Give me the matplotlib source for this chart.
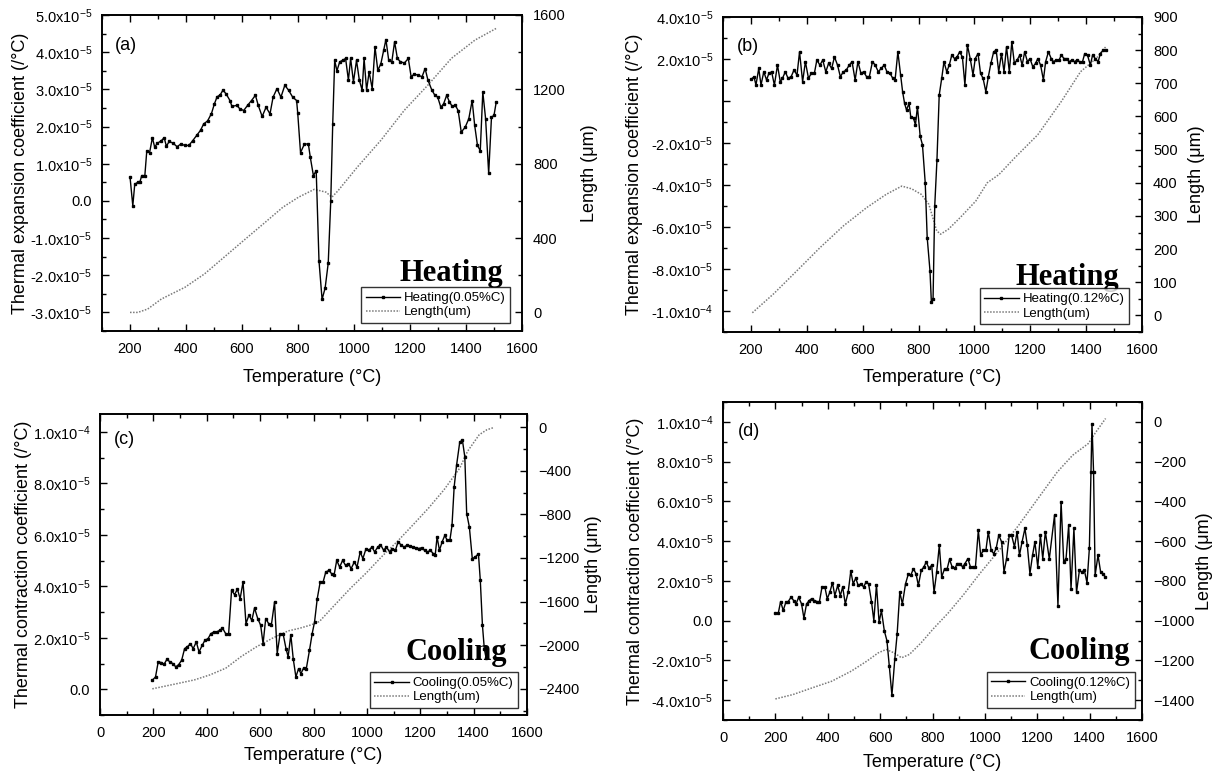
import matplotlib
matplotlib.use("Agg")
import matplotlib.pyplot as plt
from matplotlib.lines import Line2D
from matplotlib.ticker import FixedLocator, FixedFormatter, MultipleLocator
import numpy as np

plt.rcParams['font.family'] = ['Liberation Sans', 'DejaVu Sans']
plt.rcParams['mathtext.fontset'] = 'custom'
plt.rcParams['mathtext.rm'] = 'Liberation Sans'
plt.rcParams['mathtext.it'] = 'Liberation Sans'
plt.rcParams['mathtext.default'] = 'regular'

# ---------------- (a) Heating 0.05%C ----------------
a_T = [200, 210, 217, 228, 235, 242, 253, 260, 270, 280, 288, 298, 312, 322, 330, 340, 354, 368, 382, 396,
       410, 424, 438, 452, 463, 477, 491, 501, 511, 522, 532, 543, 557, 564, 581, 592, 606, 620, 634, 648,
       658, 672, 686, 700, 711, 725, 739, 753, 767, 781, 795, 799, 809, 823, 837, 844, 855, 865, 875, 886,
       897, 908, 917, 924, 931, 939, 949, 959, 970, 980, 988, 998, 1009, 1019, 1029, 1036, 1045, 1054, 1065, 1075,
       1085, 1096, 1106, 1114, 1124, 1135, 1145, 1155, 1166, 1180, 1194, 1204, 1215, 1229, 1243, 1254, 1264, 1278, 1289, 1299,
       1310, 1320, 1331, 1341, 1351, 1362, 1372, 1383, 1397, 1410, 1422, 1431, 1441, 1451, 1460, 1470, 1481, 1491, 1500, 1508]
a_alpha = [0.65, -0.13, 0.45, 0.50, 0.50, 0.68, 0.68, 1.35, 1.30, 1.70, 1.45, 1.55, 1.62, 1.70, 1.47, 1.60, 1.55, 1.46, 1.53, 1.49,
           1.49, 1.62, 1.76, 1.90, 2.07, 2.15, 2.35, 2.60, 2.80, 2.85, 2.98, 2.88, 2.70, 2.54, 2.57, 2.48, 2.43, 2.57, 2.70, 2.84,
           2.57, 2.27, 2.52, 2.34, 2.79, 3.02, 2.79, 3.11, 2.97, 2.79, 2.70, 2.36, 1.30, 1.53, 1.53, 1.17, 0.68, 0.81, -1.62, -2.65,
           -2.34, -1.67, 0.0, 2.07, 3.78, 3.50, 3.74, 3.78, 3.83, 3.25, 3.83, 3.20, 3.78, 3.25, 2.98, 3.83, 2.98, 3.47, 3.02, 4.14,
           3.51, 3.69, 4.05, 4.34, 3.78, 3.74, 4.28, 3.83, 3.74, 3.71, 3.83, 3.34, 3.41, 3.38, 3.34, 3.56, 3.25, 2.98, 2.84, 2.79,
           2.52, 2.61, 2.84, 2.66, 2.54, 2.57, 2.43, 1.85, 1.98, 2.21, 2.70, 2.03, 1.49, 1.35, 2.93, 2.21, 0.74, 2.25, 2.30, 2.66]
a_len_T = [200, 228, 263, 312, 396, 466, 536, 606, 676, 746, 802, 858, 900, 921, 942, 1012, 1096, 1180, 1264, 1348, 1432, 1508]
a_len = [0, 0, 18, 72, 135, 207, 297, 387, 476, 566, 620, 662, 647, 620, 653, 782, 926, 1088, 1223, 1367, 1465, 1528]

# ---------------- (b) Heating 0.12%C ----------------
b_T = [200, 211, 218, 228, 236, 246, 256, 264, 274, 284, 295, 305, 313, 323, 333, 344, 354, 365, 374, 385,
       395, 406, 416, 427, 436, 447, 457, 468, 478, 489, 499, 510, 520, 531, 541, 552, 562, 573, 583, 594,
       603, 614, 624, 635, 645, 656, 666, 677, 687, 698, 708, 716, 726, 736, 743, 750, 757, 766, 772, 782,
       789, 796, 806, 814, 824, 831, 841, 846, 852, 858, 866, 874, 883, 891, 901, 910, 919, 929, 938, 947,
       957, 966, 975, 985, 995, 1003, 1013, 1022, 1031, 1041, 1050, 1059, 1069, 1078, 1087, 1097, 1106, 1115, 1125, 1134,
       1143, 1153, 1162, 1171, 1180, 1190, 1199, 1209, 1219, 1227, 1237, 1247, 1255, 1265, 1275, 1283, 1293, 1303, 1311, 1321,
       1331, 1339, 1349, 1359, 1367, 1377, 1387, 1395, 1405, 1415, 1423, 1433, 1443, 1451, 1461, 1471]
b_alpha = [1.03, 1.15, 0.76, 1.55, 0.76, 1.39, 1.00, 1.31, 1.39, 0.76, 1.71, 0.92, 1.08, 1.39, 1.08, 1.16, 1.47, 1.24, 2.34, 0.92,
           1.87, 1.08, 1.31, 1.31, 1.95, 1.71, 1.95, 1.39, 1.79, 1.55, 2.10, 1.71, 1.16, 1.39, 1.47, 1.71, 1.87, 1.00, 1.87, 1.31,
           1.39, 1.16, 1.16, 1.87, 1.71, 1.39, 1.55, 1.71, 1.39, 1.31, 1.08, 1.00, 2.34, 1.24, 0.44, -0.11, -0.43, -0.11, -0.74, -0.82,
           -1.14, -0.27, -1.69, -2.08, -3.90, -6.50, -8.09, -9.59, -9.43, -5.00, -2.79, 0.28, 1.08, 1.87, 1.39, 1.71, 2.18, 2.02, 2.10, 2.34,
           2.10, 0.76, 2.66, 2.02, 1.24, 2.02, 2.26, 1.31, 1.08, 0.44, 1.16, 1.79, 2.34, 2.42, 1.39, 2.26, 1.39, 2.58, 1.39, 2.82,
           1.79, 1.95, 2.18, 1.71, 2.34, 1.87, 2.02, 1.63, 1.79, 2.02, 1.71, 1.00, 1.87, 2.34, 2.02, 1.87, 1.95, 1.95, 2.18, 2.02,
           2.02, 1.87, 1.95, 1.87, 1.95, 1.87, 1.87, 2.26, 2.18, 1.71, 2.18, 2.02, 1.87, 2.26, 2.42, 2.42]
b_len_T = [205, 281, 365, 448, 531, 614, 684, 740, 775, 810, 837, 851, 865, 879, 907, 949, 1005, 1046, 1088, 1144, 1227, 1311, 1380, 1436, 1470]
b_len = [8, 65, 135, 205, 270, 325, 365, 390, 382, 365, 335, 295, 255, 245, 260, 295, 345, 400, 425, 475, 545, 645, 735, 775, 810]

# ---------------- (c) Cooling 0.05%C ----------------
c_T = [196, 208, 218, 230, 240, 251, 262, 273, 284, 295, 306, 317, 327, 339, 349, 361, 371, 383, 393, 405,
       415, 427, 437, 449, 459, 471, 482, 493, 504, 515, 525, 536, 547, 558, 569, 579, 591, 602, 611, 621,
       632, 642, 654, 664, 675, 686, 697, 705, 715, 724, 734, 744, 753, 763, 773, 785, 795, 804, 814, 825,
       836, 846, 858, 868, 877, 887, 898, 909, 920, 931, 941, 953, 963, 975, 985, 997, 1007, 1019, 1029, 1041,
       1051, 1063, 1073, 1085, 1095, 1107, 1117, 1129, 1139, 1151, 1161, 1173, 1183, 1194, 1205, 1216, 1227, 1238, 1249, 1256,
       1263, 1272, 1282, 1292, 1301, 1311, 1319, 1327, 1336, 1348, 1358, 1367, 1374, 1384, 1395, 1406, 1418, 1425, 1433, 1440, 1447]
c_alpha = [0.35, 0.48, 1.06, 1.04, 0.97, 1.17, 1.06, 1.00, 0.87, 0.96, 1.13, 1.58, 1.65, 1.77, 1.58, 1.84, 1.45, 1.71, 1.90, 1.97,
           2.16, 2.23, 2.23, 2.29, 2.38, 2.16, 2.16, 3.85, 3.68, 3.89, 3.52, 4.17, 2.55, 2.88, 2.68, 3.16, 2.75, 2.49, 1.77, 2.75,
           2.55, 2.49, 3.39, 1.39, 2.16, 2.16, 1.58, 1.26, 2.12, 1.19, 0.48, 0.80, 0.61, 0.83, 0.80, 1.52, 2.16, 2.62, 3.52, 4.17,
           4.17, 4.56, 4.62, 4.49, 4.43, 5.01, 4.75, 5.01, 4.82, 4.88, 4.69, 4.95, 4.75, 5.34, 5.08, 5.47, 5.40, 5.53, 5.34, 5.53,
           5.62, 5.40, 5.53, 5.34, 5.47, 5.40, 5.73, 5.60, 5.53, 5.60, 5.57, 5.53, 5.50, 5.47, 5.50, 5.40, 5.34, 5.40, 5.27, 5.21,
           5.92, 5.40, 5.73, 5.98, 5.79, 5.79, 6.37, 7.86, 8.70, 9.61, 9.68, 9.03, 6.83, 6.31, 5.08, 5.14, 5.27, 4.24, 2.49, 1.58, 1.20]
c_len_T = [196, 237, 295, 354, 412, 471, 529, 588, 646, 705, 749, 792, 822, 880, 939, 997, 1056, 1114, 1173, 1231, 1289, 1348, 1377, 1421, 1450, 1477]
c_len = [-2400, -2379, -2349, -2318, -2272, -2211, -2104, -2012, -1936, -1869, -1844, -1813, -1783, -1630, -1477, -1339, -1187, -1049, -896, -743, -575, -376, -223, -70, -24, -3]

# ---------------- (d) Cooling 0.12%C ----------------
d_T = [200, 211, 220, 230, 240, 249, 260, 270, 279, 289, 300, 309, 319, 329, 338, 349, 359, 368, 378, 389,
       398, 408, 418, 427, 438, 448, 457, 467, 478, 488, 497, 507, 516, 527, 537, 546, 556, 567, 576, 586,
       596, 605, 616, 626, 635, 645, 656, 665, 675, 685, 697, 708, 717, 727, 737, 746, 757, 767, 776, 786,
       797, 806, 816, 826, 835, 846, 856, 865, 875, 886, 895, 905, 915, 924, 935, 945, 954, 964, 975, 984,
       994, 1004, 1013, 1024, 1034, 1043, 1053, 1064, 1073, 1083, 1093, 1102, 1113, 1123, 1132, 1142, 1153, 1162, 1172, 1182,
       1191, 1202, 1212, 1221, 1231, 1246, 1266, 1279, 1291, 1301, 1310, 1320, 1329, 1340, 1350, 1361, 1369, 1380, 1390, 1399,
       1405, 1409, 1415, 1421, 1432, 1442, 1451, 1460]
d_alpha = [0.37, 0.37, 0.96, 0.51, 0.93, 0.96, 1.18, 1.01, 0.84, 1.18, 0.84, 0.12, 0.84, 1.01, 1.10, 1.01, 0.96, 0.93, 1.69, 1.69,
           1.10, 1.43, 1.91, 1.26, 1.77, 1.26, 1.69, 0.84, 1.43, 2.50, 1.85, 2.14, 1.77, 1.85, 1.69, 1.94, 1.85, 0.96, 0.00, 1.80,
           -0.08, 0.51, -0.51, -1.01, -2.28, -3.76, -1.94, -0.67, 1.43, 0.84, 1.85, 2.36, 2.28, 2.61, 2.36, 1.77, 2.53, 2.70, 2.95, 2.65,
           2.78, 1.43, 2.45, 3.79, 2.19, 2.61, 2.61, 3.09, 2.70, 2.65, 2.87, 2.87, 2.70, 2.87, 3.12, 2.70, 2.70, 2.70, 4.55, 3.29,
           3.54, 3.54, 4.47, 3.54, 3.37, 3.63, 4.30, 3.96, 2.45, 3.12, 4.30, 4.30, 3.71, 4.47, 3.29, 3.96, 4.64, 3.79, 2.36, 3.29,
           3.96, 2.70, 4.30, 3.12, 4.47, 3.10, 5.31, 0.76, 5.99, 2.95, 3.12, 4.81, 1.60, 4.64, 1.43, 2.53, 2.45, 2.53, 1.90, 3.63,
           7.50, 9.90, 7.50, 2.28, 3.29, 2.45, 2.36, 2.19]
d_len_T = [200, 267, 341, 415, 490, 549, 593, 623, 653, 682, 712, 757, 801, 861, 920, 979, 1053, 1128, 1202, 1276, 1335, 1395, 1424, 1461]
d_len = [-1394, -1372, -1338, -1305, -1254, -1204, -1162, -1145, -1162, -1187, -1170, -1111, -1044, -960, -867, -766, -648, -522, -387, -253, -168, -109, -51, 17]

W, H = 1222, 773
fig = plt.figure(figsize=(W / 100, H / 100), dpi=100)


def rect(l, r, t, b):
    return [l / W, 1 - b / H, (r - l) / W, (b - t) / H]


def sci(v, e):
    return "%.1fx10$^{%d}$" % (v, e)


panels = [
    dict(rect=rect(102, 522, 15, 331), T=a_T, al=a_alpha, LT=a_len_T, L=a_len,
         xlim=(100, 1600), xticks=[200, 400, 600, 800, 1000, 1200, 1400, 1600],
         ylim=(-3.5e-5, 5e-5), yt=[-3e-5, -2e-5, -1e-5, 0, 1e-5, 2e-5, 3e-5, 4e-5, 5e-5],
         ytl=[sci(-3, -5), sci(-2, -5), sci(-1, -5), "0.0", sci(1, -5), sci(2, -5), sci(3, -5), sci(4, -5), sci(5, -5)],
         yminor=0.5e-5, r_ylim=(-100, 1600), rt=[0, 400, 800, 1200, 1600], rminor=200,
         ylab="Thermal expansion coefficient (/°C)", tag="(a)", tagxy=(0.03, 0.905),
         word="Heating", wordxy=(0.955, 0.158), leg="Heating(0.05%C)", legxy=(0.972, 0.025),
         ylc=-0.193, rlc=1.16, xlc=-0.146),
    dict(rect=rect(723, 1142, 17, 332), T=b_T, al=b_alpha, LT=b_len_T, L=b_len,
         xlim=(100, 1600), xticks=[200, 400, 600, 800, 1000, 1200, 1400, 1600],
         ylim=(-1.1e-4, 4e-5), yt=[-1e-4, -8e-5, -6e-5, -4e-5, -2e-5, 0, 2e-5, 4e-5],
         ytl=[sci(-1, -4), sci(-8, -5), sci(-6, -5), sci(-4, -5), sci(-2, -5), "", sci(2, -5), sci(4, -5)],
         yminor=1e-5, r_ylim=(-50, 900), rt=list(range(0, 901, 100)), rminor=50,
         ylab="Thermal expansion coefficient (/°C)", tag="(b)", tagxy=(0.033, 0.905),
         word="Heating", wordxy=(0.945, 0.149), leg="Heating(0.12%C)", legxy=(0.969, 0.025),
         ylc=-0.212, rlc=1.13, xlc=-0.143),
    dict(rect=rect(100, 527, 414, 715), T=c_T, al=c_alpha, LT=c_len_T, L=c_len,
         xlim=(0, 1600), xticks=[0, 200, 400, 600, 800, 1000, 1200, 1400, 1600],
         ylim=(-1e-5, 1.07e-4), yt=[0, 2e-5, 4e-5, 6e-5, 8e-5, 1e-4],
         ytl=["0.0", sci(2, -5), sci(4, -5), sci(6, -5), sci(8, -5), sci(1, -4)],
         yminor=1e-5, r_ylim=(-2640, 120), rt=[-2400, -2000, -1600, -1200, -800, -400, 0], rminor=200,
         ylab="Thermal contraction coefficient (/°C)", tag="(c)", tagxy=(0.033, 0.914),
         word="Cooling", wordxy=(0.953, 0.183), leg="Cooling(0.05%C)", legxy=(0.979, 0.023),
         ylc=-0.18, rlc=1.155, xlc=-0.135),
    dict(rect=rect(723, 1142, 402, 720), T=d_T, al=d_alpha, LT=d_len_T, L=d_len,
         xlim=(0, 1600), xticks=[0, 200, 400, 600, 800, 1000, 1200, 1400, 1600],
         ylim=(-5e-5, 1.1e-4), yt=[-4e-5, -2e-5, 0, 2e-5, 4e-5, 6e-5, 8e-5, 1e-4],
         ytl=[sci(-4, -5), sci(-2, -5), "0.0", sci(2, -5), sci(4, -5), sci(6, -5), sci(8, -5), sci(1, -4)],
         yminor=1e-5, r_ylim=(-1500, 100), rt=[-1400, -1200, -1000, -800, -600, -400, -200, 0], rminor=100,
         ylab="Thermal contraction coefficient (/°C)", tag="(d)", tagxy=(0.036, 0.906),
         word="Cooling", wordxy=(0.971, 0.192), leg="Cooling(0.12%C)", legxy=(0.983, 0.038),
         ylc=-0.21, rlc=1.15, xlc=-0.133),
]

for p in panels:
    ax = fig.add_axes(p["rect"])
    ax2 = ax.twinx()
    ax.set_zorder(ax2.get_zorder() + 1)
    ax.patch.set_visible(False)

    al = np.array(p["al"]) * 1e-5
    ax.plot(p["T"], al, color="black", lw=1.0, marker="s", ms=2.0, mfc="black", mec="black")
    ax2.plot(p["LT"], p["L"], color="#7a7a7a", lw=1.1, ls=(0, (1, 1)))

    ax.set_xlim(*p["xlim"])
    ax.set_ylim(*p["ylim"])
    ax2.set_ylim(*p["r_ylim"])
    ax.xaxis.set_major_locator(FixedLocator(p["xticks"]))
    ax.xaxis.set_minor_locator(MultipleLocator(100))
    ax.yaxis.set_major_locator(FixedLocator(p["yt"]))
    ax.yaxis.set_major_formatter(FixedFormatter(p["ytl"]))
    ax.yaxis.set_minor_locator(MultipleLocator(p["yminor"]))
    ax2.yaxis.set_major_locator(FixedLocator(p["rt"]))
    ax2.yaxis.set_minor_locator(MultipleLocator(p["rminor"]))

    ax.tick_params(which="both", direction="in", top=True, right=False, labelsize=10.5, width=1.0)
    ax.tick_params(which="major", length=5)
    ax.tick_params(which="minor", length=3)
    ax.tick_params(axis="x", which="major", pad=8)
    ax.tick_params(axis="y", which="major", pad=7)
    ax2.tick_params(which="both", direction="in", labelsize=10.5, width=1.0)
    ax2.tick_params(which="major", length=5, pad=8)
    ax2.tick_params(which="minor", length=3)
    for s in ax.spines.values():
        s.set_linewidth(1.2)
    for s in ax2.spines.values():
        s.set_linewidth(1.2)

    ax.set_xlabel("Temperature (°C)", fontsize=13)
    ax.set_ylabel(p["ylab"], fontsize=13)
    ax2.set_ylabel("Length (μm)", fontsize=13)
    ax.xaxis.set_label_coords(0.5, p["xlc"])
    ax.yaxis.set_label_coords(p["ylc"], 0.5)
    ax2.yaxis.set_label_coords(p["rlc"], 0.5)
    ax.xaxis.label.set_va("center")
    ax.yaxis.label.set_va("center")
    ax2.yaxis.label.set_va("center")

    ax.text(p["tagxy"][0], p["tagxy"][1], p["tag"], transform=ax.transAxes, fontsize=13,
            ha="left", va="center")
    ax.text(p["wordxy"][0], p["wordxy"][1], p["word"], transform=ax.transAxes, fontsize=22,
            fontweight="bold", family=["Liberation Serif", "DejaVu Serif"], ha="right", va="baseline")

    h1 = Line2D([], [], color="black", lw=1.0, marker="s", ms=2.0)
    h2 = Line2D([], [], color="#7a7a7a", lw=1.1, ls=(0, (1, 1)))
    lg = ax.legend([h1, h2], [p["leg"], "Length(um)"], loc="lower right",
                   bbox_to_anchor=p["legxy"], bbox_transform=ax.transAxes, borderaxespad=0,
                   fontsize=9.5, frameon=True, fancybox=False, handlelength=2.6,
                   handletextpad=0.3, borderpad=0.35, labelspacing=0.15)
    lg.get_frame().set_edgecolor("black")
    lg.get_frame().set_linewidth(1.0)

fig.savefig("out.png", dpi=100)
